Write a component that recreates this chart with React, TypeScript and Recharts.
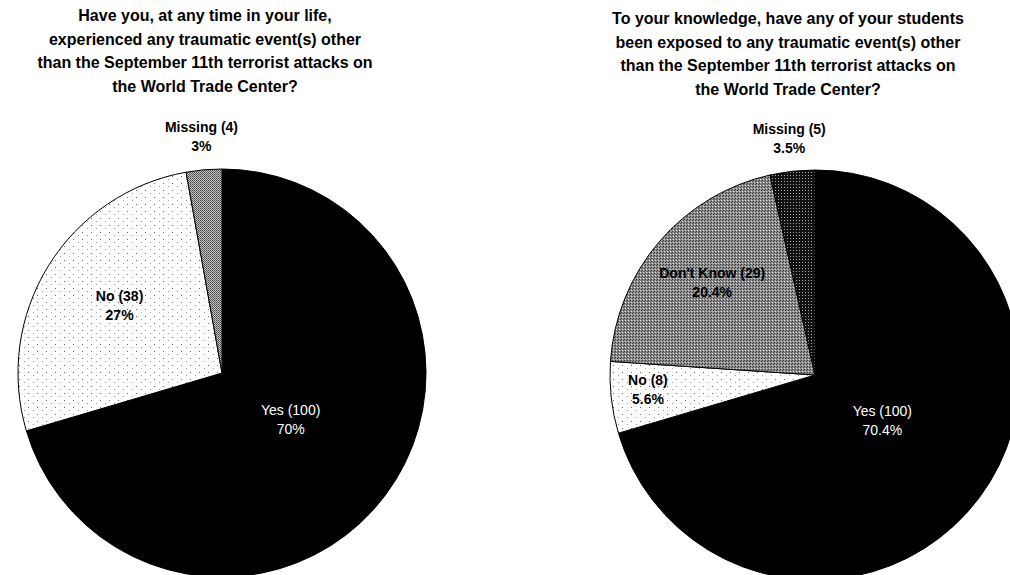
import React from 'react';
import { PieChart, Pie, Cell } from 'recharts';

// left pie: personal traumatic events
const leftNames = ['Yes', 'No', 'Missing'];
const leftCounts = [100, 38, 4];
const leftPcts = ['70%', '27%', '3%'];

// right pie: students exposed
const rightNames = ['Yes', 'No', "Don't Know", 'Missing'];
const rightCounts = [100, 8, 29, 5];
const rightPcts = ['70.4%', '5.6%', '20.4%', '3.5%'];

const leftTitle = [
  'Have you, at any time in your life,',
  'experienced any traumatic event(s) other',
  'than the September 11th terrorist attacks on',
  'the World Trade Center?',
];
const rightTitle = [
  'To your knowledge, have any of your students',
  'been exposed to any traumatic event(s) other',
  'than the September 11th terrorist attacks on',
  'the World Trade Center?',
];

const FONT = '"Liberation Sans", Arial, sans-serif';

const leftData = leftNames.map((n, i) => ({ name: n, value: leftCounts[i], pct: leftPcts[i] }));
const rightData = rightNames.map((n, i) => ({ name: n, value: rightCounts[i], pct: rightPcts[i] }));

const leftFills = ['#000', 'url(#dotsLight)', 'url(#grayDense)'];
const rightFills = ['#000', 'url(#dotsLight)', 'url(#grayMid)', 'url(#darkDots)'];

// how far out (fraction of radius) each label sits
const leftLabelR = [0.42, 0.59, 1.14];
const rightLabelR = [0.41, 0.82, 0.66, 1.14];

const RAD = Math.PI / 180;

const makeLabel = (ratios: number[]) => (props: any) => {
  const { cx, cy, midAngle, outerRadius, index, payload } = props;
  const r = outerRadius * ratios[index];
  const x = cx + r * Math.cos(-midAngle * RAD);
  const y = cy + r * Math.sin(-midAngle * RAD);
  const isYes = payload.name === 'Yes';
  return (
    <text
      x={x}
      y={y}
      textAnchor="middle"
      fontFamily={FONT}
      fontSize={14}
      fontWeight={isYes ? 'normal' : 'bold'}
      fill={isYes ? '#fff' : '#000'}
    >
      <tspan x={x} dy={-9}>{`${payload.name} (${payload.value})`}</tspan>
      <tspan x={x} dy={19}>{payload.pct}</tspan>
    </text>
  );
};

const Title = ({ lines, x, y }: { lines: string[]; x: number; y: number }) => (
  <text x={x} y={y} textAnchor="middle" fontFamily={FONT} fontSize={16} fontWeight="bold" fill="#000">
    {lines.map((l, i) => (
      <tspan key={i} x={x} dy={i === 0 ? 0 : 23.7}>{l}</tspan>
    ))}
  </text>
);

export default function App() {
  return (
    <div style={{ position: 'absolute', left: 0, top: 0, width: 1010, height: 575, background: '#fff' }}>
      <PieChart width={1010} height={575}>
        <defs>
          <pattern id="dotsLight" width="9" height="7" patternUnits="userSpaceOnUse">
            <rect width="9" height="7" fill="#fff" />
            <rect x="1" y="1" width="1" height="1" fill="#666" />
            <rect x="6" y="4" width="1" height="1" fill="#999" />
          </pattern>
          <pattern id="grayDense" width="2" height="2" patternUnits="userSpaceOnUse">
            <rect width="2" height="2" fill="#c4c4c4" />
            <rect x="0" y="0" width="1" height="1" fill="#444" />
            <rect x="1" y="1" width="1" height="1" fill="#666" />
          </pattern>
          <pattern id="grayMid" width="3" height="3" patternUnits="userSpaceOnUse">
            <rect width="3" height="3" fill="#8e8e8e" />
            <rect x="0" y="0" width="1" height="1" fill="#333" />
            <rect x="2" y="1" width="1" height="1" fill="#444" />
            <rect x="1" y="2" width="1" height="1" fill="#d8d8d8" />
          </pattern>
          <pattern id="darkDots" width="3" height="3" patternUnits="userSpaceOnUse">
            <rect width="3" height="3" fill="#111" />
            <rect x="1" y="1" width="1" height="1" fill="#aaa" />
          </pattern>
        </defs>
        <Title lines={leftTitle} x={205} y={21} />
        <Title lines={rightTitle} x={788} y={24} />
        <Pie
          data={leftData}
          dataKey="value"
          nameKey="name"
          cx={217}
          cy={368}
          outerRadius={204}
          startAngle={90}
          endAngle={-270}
          stroke="#000"
          strokeWidth={1}
          labelLine={false}
          label={makeLabel(leftLabelR)}
          isAnimationActive={false}
        >
          {leftData.map((d, i) => (
            <Cell key={d.name} fill={leftFills[i]} />
          ))}
        </Pie>
        <Pie
          data={rightData}
          dataKey="value"
          nameKey="name"
          cx={810}
          cy={370}
          outerRadius={205}
          startAngle={90}
          endAngle={-270}
          stroke="#000"
          strokeWidth={1}
          labelLine={false}
          label={makeLabel(rightLabelR)}
          isAnimationActive={false}
        >
          {rightData.map((d, i) => (
            <Cell key={d.name} fill={rightFills[i]} />
          ))}
        </Pie>
      </PieChart>
    </div>
  );
}
